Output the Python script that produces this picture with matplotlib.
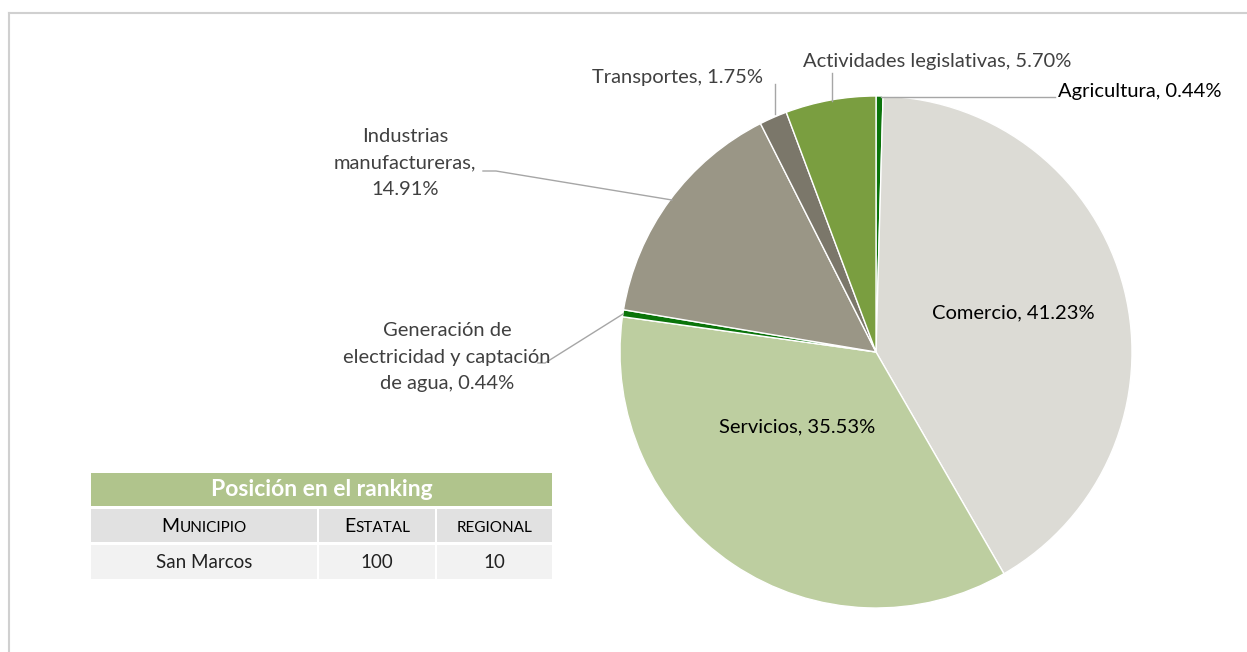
import matplotlib.pyplot as plt
from matplotlib.patches import Rectangle

# Data
sectores = ['Agricultura', 'Comercio', 'Servicios',
            'Generación de\nelectricidad y captación\nde agua',
            'Industrias\nmanufactureras', 'Transportes',
            'Actividades legislativas']
separadores = [', ', ', ', ', ', ', ', ',\n', ', ', ', ']
porcentajes = [0.44, 41.23, 35.53, 0.44, 14.91, 1.75, 5.70]
colores = ['#0b740b', '#dcdbd5', '#bdcea0', '#0b740b', '#9a9686', '#7b776a', '#7a9e40']

tabla_titulo = 'Posición en el ranking'
tabla_cols = ['Municipio', 'Estatal', 'regional']
tabla_fila = ['San Marcos', '100', '10']

W, H = 1247, 652
fig = plt.figure(figsize=(W / 100, H / 100), dpi=100)

# pie axes (below)
pax = fig.add_axes([0, 0, 1, 1], zorder=1)
pax.axis('off')
cx, cy, r = 876, H - 352, 256
wedges, _ = pax.pie(porcentajes, colors=colores, startangle=90, counterclock=False,
                    center=(cx, cy), radius=r,
                    wedgeprops=dict(edgecolor='white', linewidth=1))
pax.set_xlim(0, W)
pax.set_ylim(0, H)
pax.set_aspect('auto')

# overlay axes in pixel coords for labels and table
ax = fig.add_axes([0, 0, 1, 1], zorder=2)
ax.set_xlim(0, W)
ax.set_ylim(H, 0)
ax.axis('off')
ax.patch.set_alpha(0)

# outer frame (top and left only visible)
ax.plot([9, W], [13, 13], color='#d0d0d0', lw=1.5)
ax.plot([9, 9], [13, H], color='#d0d0d0', lw=1.5)

font = 'Lato'
fs = 14.5
grey = '#404040'

def lab(i):
    return f'{sectores[i]}{separadores[i]}{porcentajes[i]:.2f}%'

# inside labels
ax.text(1013, 313, lab(1), ha='center', va='center', fontsize=fs, family=font, color='black')
ax.text(797, 427, lab(2), ha='center', va='center', fontsize=fs, family=font, color='black')

# outside labels with leader lines
lc = '#a6a6a6'
ax.text(1058, 92, lab(0), ha='left', va='center', fontsize=fs, family=font, color='black')
ax.plot([881, 1055], [97, 97], color=lc, lw=1)

ax.text(937, 62, lab(6), ha='center', va='center', fontsize=fs, family=font, color=grey)
ax.plot([832, 832], [73, 101], color=lc, lw=1)

ax.text(677, 77, lab(5), ha='center', va='center', fontsize=fs, family=font, color=grey)
ax.plot([775, 775], [84, 114], color=lc, lw=1)

ax.text(405, 163, lab(4), ha='center', va='center', fontsize=fs, family=font, color=grey,
        linespacing=1.65)
ax.plot([483, 496, 672], [171, 171, 200], color=lc, lw=1)

ax.text(447, 357, lab(3), ha='center', va='center', fontsize=fs, family=font, color=grey,
        linespacing=1.65)
ax.plot([538, 545, 623], [363, 363, 314], color=lc, lw=1)

# ranking table
x0, x1 = 91, 552
ax.add_patch(Rectangle((x0, 473), x1 - x0, 33, facecolor='#b0c48c', edgecolor='none'))
ax.text((x0 + x1) / 2, 490, tabla_titulo, ha='center', va='center', fontsize=16.5,
        family=font, weight='bold', color='white')

renderer = fig.canvas.get_renderer()


def small_caps(xc, y, word, big=14, small=11):
    # first letter capital kept big when it is upper case, rest as small caps
    if word[0].isupper():
        first, rest = word[0], word[1:].upper()
    else:
        first, rest = '', word.upper()
    t1 = ax.text(0, y, first, ha='left', va='baseline', fontsize=big, family=font)
    t2 = ax.text(0, y, rest, ha='left', va='baseline', fontsize=small, family=font)
    w1 = t1.get_window_extent(renderer).width if first else 0
    w2 = t2.get_window_extent(renderer).width
    start = xc - (w1 + w2) / 2
    t1.set_x(start)
    t2.set_x(start + w1)


col_edges = [(91, 317), (319, 435), (437, 552)]
for (a, b), h, v in zip(col_edges, tabla_cols, tabla_fila):
    ax.add_patch(Rectangle((a, 509), b - a, 33, facecolor='#e1e1e1', edgecolor='none'))
    ax.add_patch(Rectangle((a, 545), b - a, 34, facecolor='#f2f2f2', edgecolor='none'))
    small_caps((a + b) / 2, 532, h)
    ax.text((a + b) / 2, 563, v, ha='center', va='center', fontsize=13.5, family=font,
            color='#222222')

fig.savefig('out.png', dpi=100)
